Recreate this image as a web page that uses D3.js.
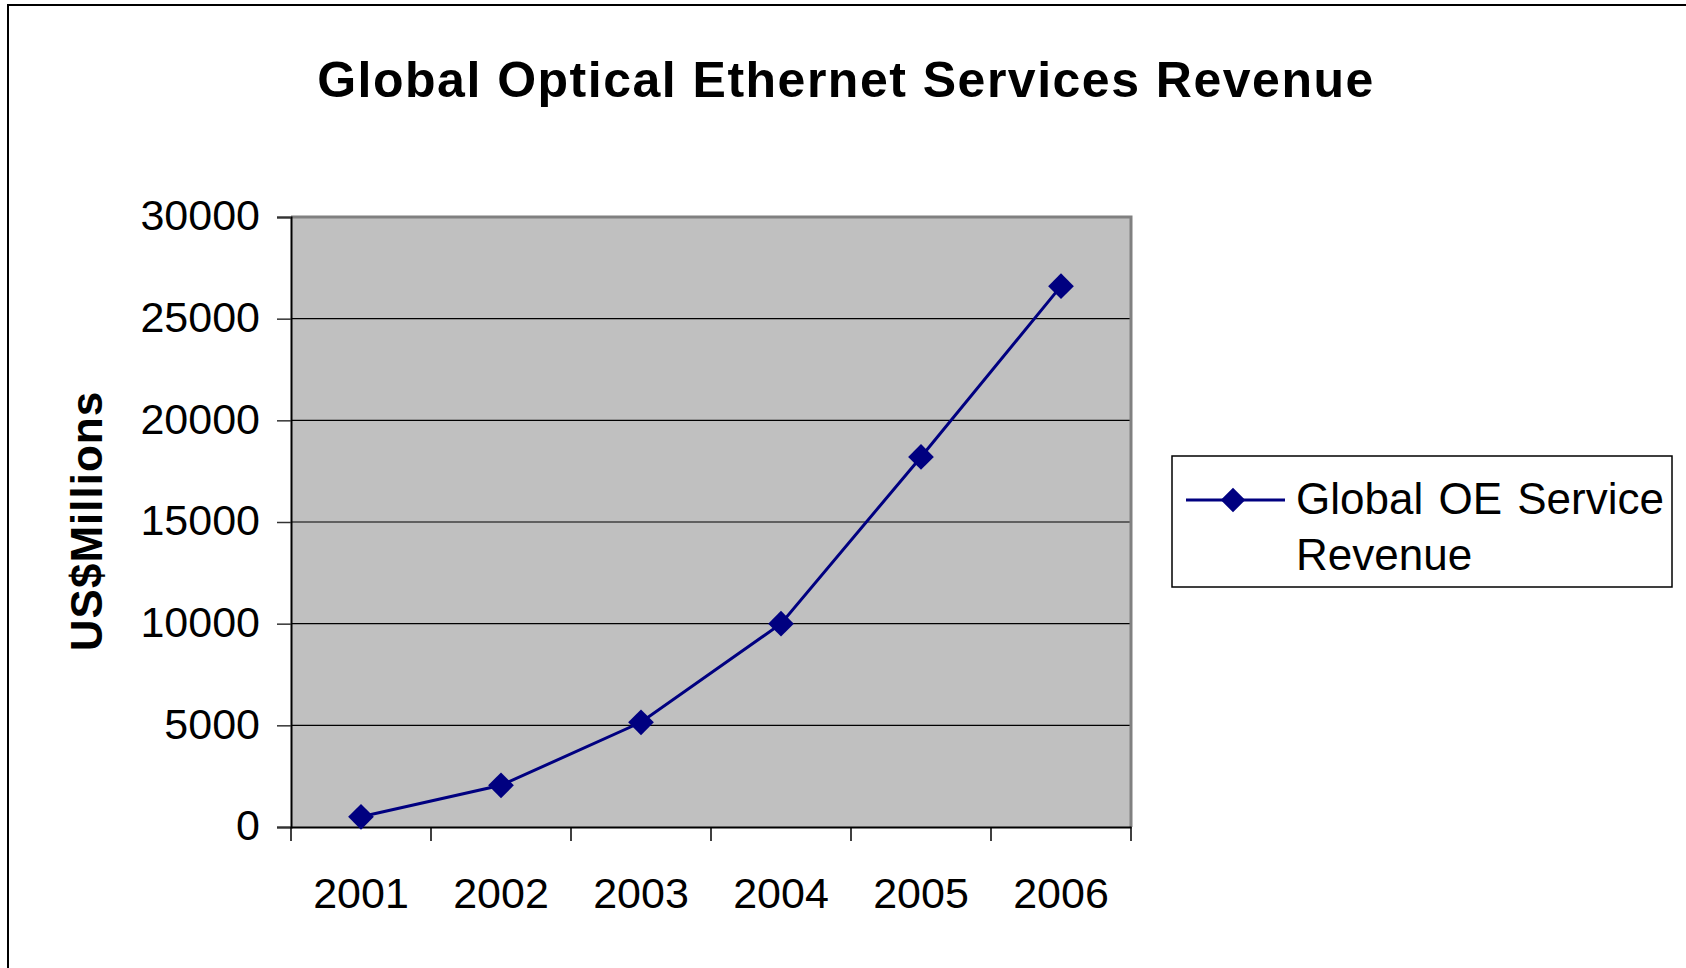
<!DOCTYPE html>
<html>
<head>
<meta charset="utf-8">
<script src="https://cdn.jsdelivr.net/npm/d3@7"></script>
<style>
  body { margin: 0; background: #fff; }
  svg { display: block; font-family: Arial, "Liberation Sans", sans-serif; }
  .tick text { font-size: 43px; fill: #000; }
</style>
</head>
<body>
<svg width="1686" height="968"></svg>
<script>
// data
const years = ["2001", "2002", "2003", "2004", "2005", "2006"];
const revenue = [500, 2050, 5150, 10000, 18200, 26600];
const yTicks = [0, 5000, 10000, 15000, 20000, 25000, 30000];
const seriesName = ["Global OE Service", "Revenue"];

const plotLeft = 291;
const plotTop = 217;
const width = 840;
const height = 610;

const svg = d3.select("svg");

// outer chart border (only top and left visible)
svg
  .append("rect")
  .attr("x", 8)
  .attr("y", 5)
  .attr("width", 1700)
  .attr("height", 1000)
  .attr("fill", "#fff")
  .attr("stroke", "#000")
  .attr("stroke-width", 2);

svg
  .append("text")
  .attr("x", 846)
  .attr("y", 97)
  .attr("text-anchor", "middle")
  .attr("font-size", 50)
  .attr("font-weight", "bold")
  .attr("letter-spacing", 1.5)
  .text("Global Optical Ethernet Services Revenue");

const chart = svg
  .append("g")
  .attr("transform", `translate(${plotLeft}, ${plotTop})`);

const yScale = d3
  .scaleLinear()
  .range([height, 0])
  .domain([0, 30000]);

const xScale = d3
  .scaleBand()
  .range([0, width])
  .domain(years);

// plot area
chart
  .append("rect")
  .attr("width", width)
  .attr("height", height)
  .attr("fill", "#c0c0c0");

// grid lines - horizontal
chart
  .append("g")
  .selectAll("line")
  .data(yTicks.slice(1, -1))
  .enter()
  .append("line")
  .attr("x1", 0)
  .attr("x2", width)
  .attr("y1", d => yScale(d))
  .attr("y2", d => yScale(d))
  .attr("stroke", "#000")
  .attr("stroke-width", 1.2);

// top and right border of plot area
chart
  .append("path")
  .attr("d", `M0,0H${width}V${height}`)
  .attr("fill", "none")
  .attr("stroke", "#808080")
  .attr("stroke-width", 3);

// y axis
const yAxis = chart
  .append("g")
  .call(
    d3
      .axisLeft(yScale)
      .tickValues(yTicks)
      .tickFormat(d3.format("d"))
      .tickSize(14)
      .tickPadding(17)
  );
yAxis.select(".domain").attr("stroke-width", 2);
yAxis.selectAll(".tick line").attr("stroke", "#333").attr("stroke-width", 1.5);
yAxis.selectAll(".tick text").attr("dy", "0.3em");

// x axis: ticks on category boundaries
const xAxis = chart
  .append("g")
  .attr("transform", `translate(0, ${height})`)
  .call(d3.axisBottom(xScale).tickSize(0).tickPadding(50));
xAxis.select(".domain").attr("stroke-width", 2);
xAxis
  .selectAll(".edge")
  .data(years.map(y => xScale(y)).concat([width]))
  .enter()
  .append("line")
  .attr("x1", d => d)
  .attr("x2", d => d)
  .attr("y1", 0)
  .attr("y2", 14)
  .attr("stroke", "#000")
  .attr("stroke-width", 1.5);

// y label
svg
  .append("text")
  .attr("transform", "translate(102, 521) rotate(-90)")
  .attr("text-anchor", "middle")
  .attr("font-size", 44)
  .attr("font-weight", "bold")
  .attr("letter-spacing", 1)
  .text("US$Millions");

// line + markers
const cx = (d, i) => xScale(years[i]) + xScale.bandwidth() / 2;
const line = d3
  .line()
  .x(cx)
  .y(d => yScale(d));

chart
  .append("path")
  .datum(revenue)
  .attr("d", line)
  .attr("fill", "none")
  .attr("stroke", "#000080")
  .attr("stroke-width", 3);

const diamond = d3.symbol().type(d3.symbolSquare).size(330);
chart
  .selectAll(".pt")
  .data(revenue)
  .enter()
  .append("path")
  .attr("d", diamond)
  .attr("transform", (d, i) => `translate(${cx(d, i)}, ${yScale(d)}) rotate(45)`)
  .attr("fill", "#000080");

// legend
const legend = svg.append("g").attr("transform", "translate(1172, 456)");
legend
  .append("rect")
  .attr("width", 500)
  .attr("height", 131)
  .attr("fill", "#fff")
  .attr("stroke", "#000")
  .attr("stroke-width", 1.5);
legend
  .append("line")
  .attr("x1", 14)
  .attr("x2", 113)
  .attr("y1", 44)
  .attr("y2", 44)
  .attr("stroke", "#000080")
  .attr("stroke-width", 3);
legend
  .append("path")
  .attr("d", d3.symbol().type(d3.symbolSquare).size(300))
  .attr("transform", "translate(61, 44) rotate(45)")
  .attr("fill", "#000080");
legend
  .selectAll(".lbl")
  .data(seriesName)
  .enter()
  .append("text")
  .attr("x", 124)
  .attr("y", (d, i) => 58 + i * 56)
  .attr("font-size", 44)
  .attr("word-spacing", 3)
  .text(d => d);
</script>
</body>
</html>
